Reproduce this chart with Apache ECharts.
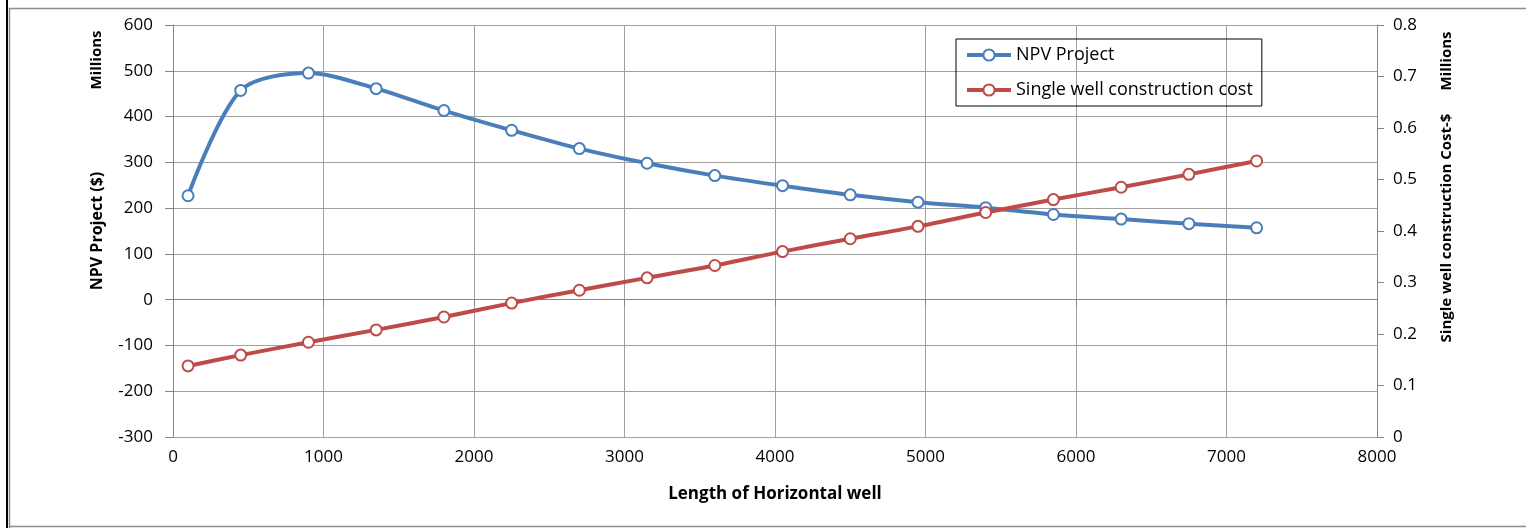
<!DOCTYPE html>
<html>
<head>
<meta charset="utf-8">
<script src="https://cdn.jsdelivr.net/npm/echarts@6/dist/echarts.min.js"></script>
<style>
html,body{margin:0;padding:0;background:#fff;}
#chart{width:1526px;height:528px;}
</style>
</head>
<body>
<div id="chart"></div>
<script>
// Data
var wellLength = [100, 450, 900, 1350, 1800, 2250, 2700, 3150, 3600, 4050, 4500, 4950, 5400, 5850, 6300, 6750, 7200];
var npvProject = [227, 457, 495, 461, 413, 370, 330, 298, 271, 249, 229, 213, 201, 186, 176, 166, 157];
var wellCost = [0.138, 0.159, 0.184, 0.208, 0.233, 0.260, 0.285, 0.309, 0.333, 0.360, 0.385, 0.409, 0.436, 0.461, 0.485, 0.510, 0.536];
var seriesNames = ['NPV Project', 'Single well construction cost'];
var xTitle = 'Length of Horizontal well';
var leftTitle = 'NPV Project ($)';
var rightTitle = 'Single well construction Cost-$';
var unitLabel = 'Millions';

function pairs(xs, ys) { return xs.map(function (x, i) { return [x, ys[i]]; }); }

var FONT = 'Open Sans';
var BLUE = '#4a7ebb', RED = '#be4b48';
var AXIS = '#868686', GRID = '#a0a0a0';

var chart = echarts.init(document.getElementById('chart'), null, {renderer: 'canvas'});
chart.setOption({
  animation: false,
  backgroundColor: '#fff',
  textStyle: {fontFamily: FONT},
  grid: {left: 173, right: 149, top: 25, bottom: 91, outerBoundsMode: 'none'},
  legend: {
    orient: 'vertical', left: 956, top: 39,
    padding: [7, 9, 7, 9],
    borderColor: '#000', borderWidth: 1,
    itemWidth: 44, itemHeight: 14, itemGap: 17,
    lineStyle: {width: 4},
    textStyle: {fontFamily: FONT, fontSize: 18, lineHeight: 18, color: '#000'},
    data: seriesNames
  },
  xAxis: {
    type: 'value', min: 0, max: 8000, interval: 1000,
    name: xTitle, nameLocation: 'middle', nameGap: 49,
    nameTextStyle: {fontFamily: FONT, fontSize: 17, fontWeight: 'bold', color: '#000'},
    axisLine: {show: true, lineStyle: {color: AXIS, width: 1}},
    axisTick: {show: true, length: 6, lineStyle: {color: AXIS}},
    axisLabel: {fontFamily: FONT, fontSize: 17, color: '#000', margin: 12,
      formatter: function (v) { return String(v); }},
    splitLine: {show: true, lineStyle: {color: GRID, width: 1}}
  },
  yAxis: [{
    type: 'value', min: -300, max: 600, interval: 100, position: 'left',
    axisLine: {show: true, lineStyle: {color: AXIS, width: 1}},
    axisTick: {show: true, length: 8, lineStyle: {color: AXIS}},
    axisLabel: {fontFamily: FONT, fontSize: 17, color: '#000', margin: 20,
      formatter: function (v) { return String(v); }},
    splitLine: {show: true, lineStyle: {color: GRID, width: 1}}
  }, {
    type: 'value', min: 0, max: 0.8, interval: 0.1, position: 'right',
    axisLine: {show: true, lineStyle: {color: AXIS, width: 1}},
    axisTick: {show: true, length: 7, lineStyle: {color: AXIS}},
    axisLabel: {fontFamily: FONT, fontSize: 17, color: '#000', margin: 16,
      formatter: function (v) { return String(Math.round(v * 10) / 10); }},
    splitLine: {show: false}
  }],
  series: [{
    name: seriesNames[0], type: 'line', yAxisIndex: 0,
    data: pairs(wellLength, npvProject),
    smooth: 0.3,
    symbol: 'circle', symbolSize: 11,
    lineStyle: {color: BLUE, width: 4},
    itemStyle: {color: '#fff', borderColor: BLUE, borderWidth: 2},
    z: 3
  }, {
    name: seriesNames[1], type: 'line', yAxisIndex: 1,
    data: pairs(wellLength, wellCost),
    smooth: 0.3,
    symbol: 'circle', symbolSize: 11,
    lineStyle: {color: RED, width: 4},
    itemStyle: {color: '#fff', borderColor: RED, borderWidth: 2},
    z: 4
  }],
  graphic: [
    {type: 'rect', shape: {x: 6, y: 0, width: 2, height: 528}, style: {fill: '#000'}, silent: true},
    {type: 'line', shape: {x1: 9.5, y1: 8, x2: 9.5, y2: 528}, style: {stroke: '#8c8c8c', lineWidth: 1.5}, silent: true},
    {type: 'line', shape: {x1: 9, y1: 8.5, x2: 1526, y2: 8.5}, style: {stroke: '#8c8c8c', lineWidth: 1.5}, silent: true},
    {type: 'line', shape: {x1: 9, y1: 526.5, x2: 1526, y2: 526.5}, style: {stroke: '#8c8c8c', lineWidth: 1.5}, silent: true},
    {type: 'text', x: 97, y: 231, rotation: Math.PI / 2,
      style: {text: leftTitle, fontFamily: FONT, fontSize: 16, fontWeight: 'bold', fill: '#000', align: 'center', verticalAlign: 'middle'}},
    {type: 'text', x: 97, y: 60, rotation: Math.PI / 2,
      style: {text: unitLabel, fontFamily: FONT, fontSize: 15, fontWeight: 'bold', fill: '#000', align: 'center', verticalAlign: 'middle'}},
    {type: 'text', x: 1447, y: 228, rotation: Math.PI / 2,
      style: {text: rightTitle, fontFamily: FONT, fontSize: 15, fontWeight: 'bold', fill: '#000', align: 'center', verticalAlign: 'middle'}},
    {type: 'text', x: 1447, y: 61, rotation: Math.PI / 2,
      style: {text: unitLabel, fontFamily: FONT, fontSize: 15, fontWeight: 'bold', fill: '#000', align: 'center', verticalAlign: 'middle'}}
  ]
});
</script>
</body>
</html>
